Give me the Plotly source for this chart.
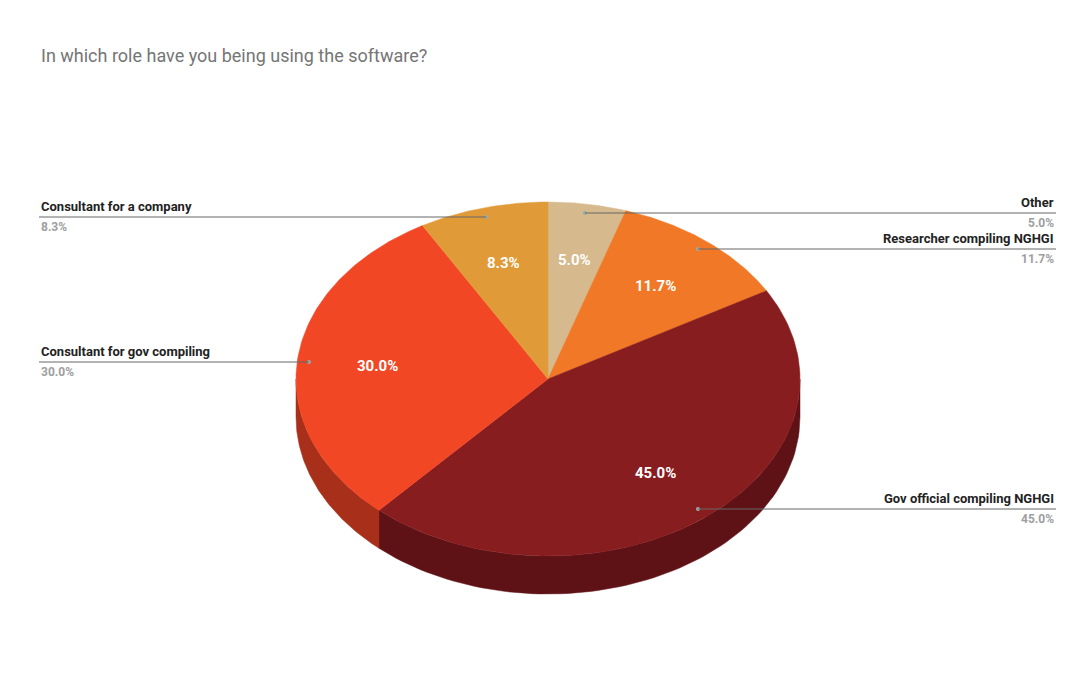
import numpy as np
import plotly.graph_objects as go

labels = ["Other", "Researcher compiling NGHGI", "Gov official compiling NGHGI",
          "Consultant for gov compiling", "Consultant for a company"]
values = [5.0, 11.7, 45.0, 30.0, 8.3]
top_colors = ["#d6b98c", "#f07826", "#881d1f", "#f24724", "#e09b38"]
side_colors = ["#a08a68", "#b45a1c", "#5e1216", "#a8301b", "#a87429"]

W, H = 1084, 691
cx, cy, rx, ry, depth = 540, 371, 252, 177, 38

def pt(theta, dy=0.0, f=1.0):
    return cx + f * rx * np.sin(theta), cy - f * ry * np.cos(theta) + dy

fig = go.Figure()
total = sum(values)
cum = np.cumsum([0] + values) / total * 2 * np.pi

# side walls
for i in range(len(values)):
    a0, a1 = max(cum[i], np.pi / 2), min(cum[i + 1], 3 * np.pi / 2)
    if a1 <= a0:
        continue
    t = np.linspace(a0, a1, 80)
    xt, yt = pt(t)
    xb, yb = pt(t[::-1], depth)
    fig.add_trace(go.Scatter(x=np.r_[xt, xb, xt[0]], y=np.r_[yt, yb, yt[0]], fill="toself",
                             fillcolor=side_colors[i], line=dict(color=side_colors[i], width=0.5),
                             mode="lines", hoverinfo="skip", showlegend=False))
# top faces
for i in range(len(values)):
    t = np.linspace(cum[i], cum[i + 1], 120)
    xs, ys = pt(t)
    fig.add_trace(go.Scatter(x=np.r_[cx, xs, cx], y=np.r_[cy, ys, cy], fill="toself",
                             fillcolor=top_colors[i], line=dict(color=top_colors[i], width=0.5),
                             mode="lines", hoverinfo="skip", showlegend=False))
    mx, my = pt((cum[i] + cum[i + 1]) / 2, f=0.68)
    fig.add_annotation(x=mx, y=my, text=f"<b>{values[i]:.1f}%</b>", showarrow=False,
                       font=dict(color="white", size=15, family="Roboto, Arial"))

# outside labels with leader lines
outside = [  # (index, side, line y, dot x)
    (0, "right", 205, 577), (1, "right", 241, 690), (2, "right", 501, 690),
    (3, "left", 354, 301), (4, "left", 209, 478)]
for i, side, ly, dx in outside:
    ex = 1048 if side == "right" else 31
    fig.add_shape(type="line", x0=dx, x1=ex, y0=ly, y1=ly, line=dict(color="#666", width=1))
    fig.add_trace(go.Scatter(x=[dx], y=[ly], mode="markers", marker=dict(color="#9aa", size=4),
                             hoverinfo="skip", showlegend=False))
    anc = "right" if side == "right" else "left"
    fig.add_annotation(x=ex, y=ly - 1, text=f"<b>{labels[i]}</b>", showarrow=False,
                       xanchor=anc, yanchor="bottom", font=dict(size=13, color="#222", family="Roboto, Arial"))
    fig.add_annotation(x=ex, y=ly + 1, text=f"<b>{values[i]:.1f}%</b>", showarrow=False,
                       xanchor=anc, yanchor="top", font=dict(size=12, color="#9e9e9e", family="Roboto, Arial"))

fig.add_annotation(x=31, y=47, text="In which role have you being using the software?", showarrow=False,
                   xanchor="left", yanchor="middle", font=dict(size=18, color="#757575", family="Roboto, Arial"))

fig.update_layout(width=W, height=H, margin=dict(l=0, r=0, t=0, b=0),
                  paper_bgcolor="white", plot_bgcolor="white",
                  xaxis=dict(range=[0, W], visible=False, fixedrange=True),
                  yaxis=dict(range=[H, 0], visible=False, fixedrange=True))
fig.write_html("out.html")
